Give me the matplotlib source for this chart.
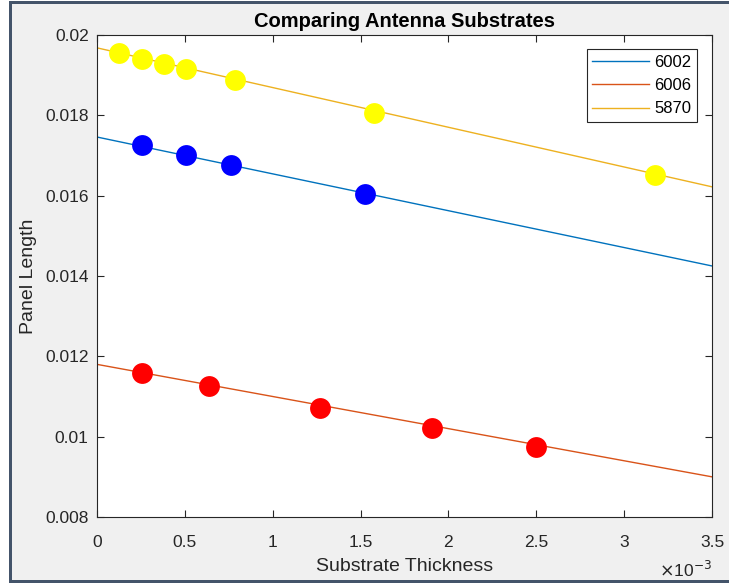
import matplotlib
matplotlib.use("Agg")
import matplotlib.pyplot as plt
from matplotlib.patches import Rectangle

plt.rcParams['font.family'] = ['Liberation Sans', 'DejaVu Sans']

# ---- data ----
x_6002 = [0.254e-3, 0.508e-3, 0.762e-3, 1.524e-3]
y_6002 = [0.01726, 0.01701, 0.01676, 0.01604]
x_6006 = [0.254e-3, 0.635e-3, 1.27e-3, 1.905e-3, 2.5e-3]
y_6006 = [0.01159, 0.01126, 0.01071, 0.01022, 0.00974]
x_5870 = [0.127e-3, 0.254e-3, 0.381e-3, 0.508e-3, 0.787e-3, 1.575e-3, 3.175e-3]
y_5870 = [0.01955, 0.01940, 0.01928, 0.01915, 0.01888, 0.01806, 0.01651]

fit_x = [0.0, 3.5e-3]
fit_6002 = [0.01746, 0.01425]
fit_6006 = [0.01180, 0.00900]
fit_5870 = [0.01968, 0.01622]

series_names = ['6002', '6006', '5870']
xticks = [0, 0.5e-3, 1e-3, 1.5e-3, 2e-3, 2.5e-3, 3e-3, 3.5e-3]
xticklabels = ['0', '0.5', '1', '1.5', '2', '2.5', '3', '3.5']
yticks = [0.008, 0.010, 0.012, 0.014, 0.016, 0.018, 0.020]
yticklabels = ['0.008', '0.01', '0.012', '0.014', '0.016', '0.018', '0.02']

W, H = 729, 583
fig = plt.figure(figsize=(W / 100, H / 100), dpi=100)
fig.patch.set_facecolor('#f0f0f0')
# frame strips (left, top, bottom) and white margin
dark = '#44546a'
def strip(x0, y0, w, h, color):
    fig.patches.append(Rectangle((x0 / W, 1 - (y0 + h) / H), w / W, h / H,
                                 transform=fig.transFigure, facecolor=color,
                                 edgecolor='none', zorder=-2))
strip(0, 0, 9, H, 'white')
strip(9, 0, W - 9, 1, 'white')
strip(9, 1, 3, H - 1, dark)
strip(9, 1, W - 9, 3, dark)
strip(9, H - 3, W - 9, 3, dark)

ax = fig.add_axes([97 / W, (H - 517) / H, 615 / W, 482 / H])
ax.set_facecolor('white')

c_blue = '#0072BD'
c_orange = '#D95319'
c_yellow = '#EDB120'

ax.plot(fit_x, fit_6002, color=c_blue, lw=1.0, label=series_names[0])
ax.plot(fit_x, fit_6006, color=c_orange, lw=1.0, label=series_names[1])
ax.plot(fit_x, fit_5870, color=c_yellow, lw=1.0, label=series_names[2])

ms = 15
ax.plot(x_6002, y_6002, 'o', color='#0000ff', ms=ms, mec='none', zorder=3)
ax.plot(x_6006, y_6006, 'o', color='#ff0000', ms=ms, mec='none', zorder=3)
ax.plot(x_5870, y_5870, 'o', color='#ffff00', ms=ms, mec='none', zorder=3)

ax.set_xlim(0, 3.5e-3)
ax.set_ylim(0.008, 0.02)
ax.set_xticks(xticks)
ax.set_xticklabels(xticklabels)
ax.set_yticks(yticks)
ax.set_yticklabels(yticklabels)

tc = '#262626'
ax.tick_params(direction='in', length=5, width=0.8, colors=tc, labelsize=12.5,
               top=True, right=True)
ax.tick_params(axis='x', pad=13)
ax.tick_params(axis='y', pad=6)
for s in ax.spines.values():
    s.set_color(tc)
    s.set_linewidth(0.8)

ax.set_xlabel('Substrate Thickness', fontsize=14, color=tc, labelpad=6)
ax.set_ylabel('Panel Length', fontsize=14, color=tc, labelpad=6)
ax.set_title('Comparing Antenna Substrates', fontsize=14.5, fontweight='bold', color='black', pad=6)

fig.text(712 / W, (H - 570) / H, r'$\times$10$^{-3}$', ha='right', va='center',
         fontsize=12.5, color=tc)

leg = ax.legend(loc='upper right', fontsize=12, frameon=True, fancybox=False,
                edgecolor=tc, framealpha=1, bbox_to_anchor=(600 / 615, 1 - 14 / 482),
                borderaxespad=0, handlelength=3.4, labelspacing=0.5,
                borderpad=0.35, handletextpad=0.3)
leg.get_frame().set_linewidth(0.8)

fig.savefig('out.png', dpi=100, facecolor=fig.get_facecolor())
